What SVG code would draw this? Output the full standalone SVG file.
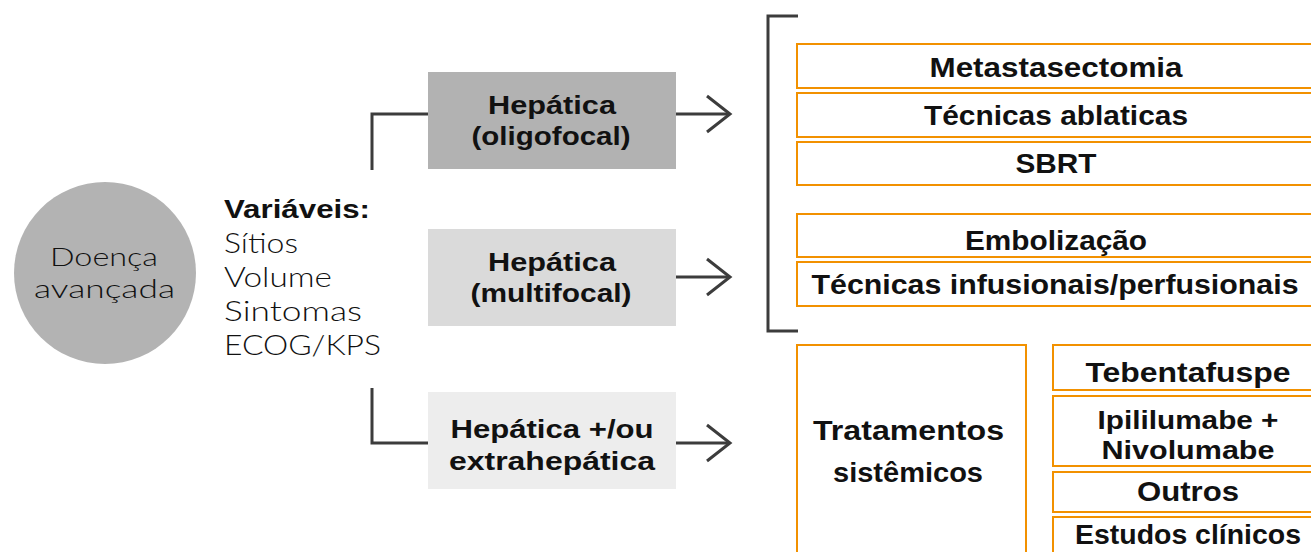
<svg xmlns="http://www.w3.org/2000/svg" width="1311" height="552" viewBox="0 0 1311 552">
<style>
.lt{font-family:Lato,"Liberation Sans",sans-serif;font-weight:300;fill:#111;}
.bd{font-family:"Liberation Sans",Arial,sans-serif;font-weight:700;fill:#111;font-size:28px;text-anchor:middle;}
.b2{font-size:26px;}
.ob{fill:#fff;stroke:#f29100;stroke-width:2;}
.cn{fill:none;stroke:#3c3c3c;stroke-width:3;}
</style>
<rect width="1311" height="552" fill="#fff"/>
<g id="doenca">
<circle cx="105" cy="273" r="91" fill="#b3b3b3"/>
<text class="lt" x="104" y="266" font-size="26" text-anchor="middle" textLength="108" lengthAdjust="spacingAndGlyphs">Doença</text>
<text class="lt" x="104.5" y="298" font-size="26" text-anchor="middle" textLength="141" lengthAdjust="spacingAndGlyphs">avançada</text>
</g>
<g id="variaveis">
<text class="bd" style="text-anchor:start;font-size:26px" x="224" y="218" textLength="146" lengthAdjust="spacingAndGlyphs">Variáveis:</text>
<text class="lt" x="224" y="253" font-size="27" textLength="74" lengthAdjust="spacingAndGlyphs">Sítios</text>
<text class="lt" x="224" y="287" font-size="27" textLength="108" lengthAdjust="spacingAndGlyphs">Volume</text>
<text class="lt" x="224" y="321" font-size="27" textLength="138" lengthAdjust="spacingAndGlyphs">Sintomas</text>
<text class="lt" x="224" y="355" font-size="27" textLength="157" lengthAdjust="spacingAndGlyphs">ECOG/KPS</text>
</g>
<g id="connectors">
<polyline class="cn" points="372,170 372,114 428,114"/>
<polyline class="cn" points="372,388 372,443 428,443"/>
<line class="cn" x1="676" y1="114" x2="730" y2="114"/>
<polyline class="cn" points="707,96 730,114 707,132"/>
<line class="cn" x1="676" y1="277" x2="730" y2="277"/>
<polyline class="cn" points="707,259 730,277 707,295"/>
<line class="cn" x1="676" y1="443" x2="730" y2="443"/>
<polyline class="cn" points="707,425 730,443 707,461"/>
<polyline class="cn" points="798,16 768,16 768,331 798,331"/>
</g>
<g id="hep-oligo">
<rect x="428" y="72" width="248" height="97" fill="#b2b2b2"/>
<text class="bd b2" x="552" y="114" textLength="128" lengthAdjust="spacingAndGlyphs">Hepática</text>
<text class="bd b2" x="551" y="145" textLength="159" lengthAdjust="spacingAndGlyphs">(oligofocal)</text>
</g>
<g id="hep-multi">
<rect x="428" y="229" width="248" height="97" fill="#dadada"/>
<text class="bd b2" x="552" y="271" textLength="128" lengthAdjust="spacingAndGlyphs">Hepática</text>
<text class="bd b2" x="551" y="302" textLength="161" lengthAdjust="spacingAndGlyphs">(multifocal)</text>
</g>
<g id="hep-extra">
<rect x="428" y="392" width="248" height="97" fill="#ededed"/>
<text class="bd b2" x="552" y="438" textLength="203" lengthAdjust="spacingAndGlyphs">Hepática +/ou</text>
<text class="bd b2" x="552" y="470" textLength="206" lengthAdjust="spacingAndGlyphs">extrahepática</text>
</g>
<g id="metastasectomia">
<rect class="ob" x="797" y="44" width="519" height="44"/>
<text class="bd" x="1056" y="77" textLength="253" lengthAdjust="spacingAndGlyphs">Metastasectomia</text>
</g>
<g id="ablaticas">
<rect class="ob" x="797" y="93" width="519" height="44"/>
<text class="bd" x="1056" y="125" textLength="264" lengthAdjust="spacingAndGlyphs">Técnicas ablaticas</text>
</g>
<g id="sbrt">
<rect class="ob" x="797" y="142" width="519" height="43"/>
<text class="bd" x="1056" y="173" textLength="81" lengthAdjust="spacingAndGlyphs">SBRT</text>
</g>
<g id="embolizacao">
<rect class="ob" x="797" y="214" width="519" height="43"/>
<text class="bd" x="1056" y="250" textLength="182" lengthAdjust="spacingAndGlyphs">Embolização</text>
</g>
<g id="infusionais">
<rect class="ob" x="797" y="262" width="519" height="44"/>
<text class="bd" x="1055" y="294" textLength="487" lengthAdjust="spacingAndGlyphs">Técnicas infusionais/perfusionais</text>
</g>
<g id="tratamentos">
<rect class="ob" x="797" y="345" width="229" height="220"/>
<text class="bd" x="908.5" y="440" textLength="191" lengthAdjust="spacingAndGlyphs">Tratamentos</text>
<text class="bd" x="908" y="482" textLength="150" lengthAdjust="spacingAndGlyphs">sistêmicos</text>
</g>
<g id="tebentafuspe">
<rect class="ob" x="1053" y="345" width="272" height="45"/>
<text class="bd" x="1188" y="382" textLength="205" lengthAdjust="spacingAndGlyphs">Tebentafuspe</text>
</g>
<g id="ipi-nivo">
<rect class="ob" x="1053" y="396" width="272" height="70"/>
<text class="bd b2" x="1188" y="429" textLength="181" lengthAdjust="spacingAndGlyphs">Ipililumabe +</text>
<text class="bd b2" x="1188" y="459" textLength="173" lengthAdjust="spacingAndGlyphs">Nivolumabe</text>
</g>
<g id="outros">
<rect class="ob" x="1053" y="472" width="272" height="40"/>
<text class="bd" x="1188" y="501" textLength="102" lengthAdjust="spacingAndGlyphs">Outros</text>
</g>
<g id="estudos">
<rect class="ob" x="1053" y="517" width="272" height="50"/>
<text class="bd" x="1188" y="544" textLength="226" lengthAdjust="spacingAndGlyphs">Estudos clínicos</text>
</g>
</svg>
